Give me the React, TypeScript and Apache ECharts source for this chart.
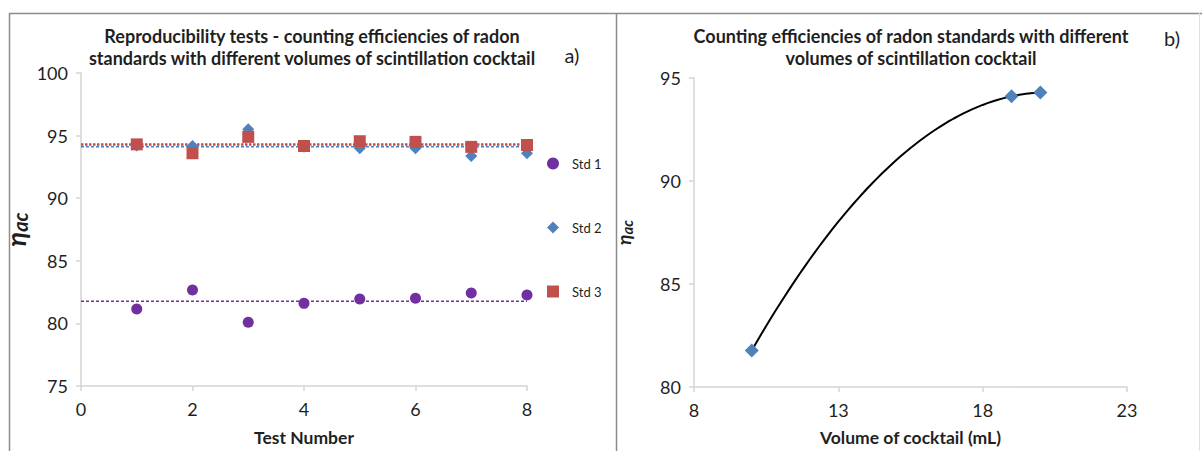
import React, { useEffect, useRef } from "react";
import * as echarts from "echarts";

// Counting efficiency (%) of each radon standard over eight repeated tests
const testNumbers = [1, 2, 3, 4, 5, 6, 7, 8];
const std1 = [81.15, 82.67, 80.09, 81.6, 81.95, 82.0, 82.43, 82.27];
const std2 = [94.2, 94.17, 95.5, 94.1, 93.98, 93.98, 93.37, 93.6];
const std3 = [94.3, 93.59, 94.9, 94.17, 94.55, 94.5, 94.1, 94.25];
const stdNames = ["Std 1", "Std 2", "Std 3"];

// Cocktail volume (mL) of Std 1, Std 2, Std 3
const cocktailVolumes = [10, 19, 20];

const leftXTicks = { min: 0, max: 8, interval: 2 };
const leftYTicks = { min: 75, max: 100, interval: 5 };
const rightXTicks = { min: 8, max: 23, interval: 5 };
const rightYTicks = { min: 80, max: 95, interval: 5 };

const FONT = "Lato, 'Liberation Sans', sans-serif";
const PURPLE = "#7030a0";
const BLUE = "#4f81bd";
const RED = "#c0504d";
const AXIS_GREY = "#d4d4d4";
const TEXT = "#1f1f1f";

const mean = (a: number[]) => a.reduce((s, v) => s + v, 0) / a.length;

// second-order polynomial trendline through the (volume, mean efficiency) points
function quadraticTrend(xs: number[], ys: number[], steps: number) {
  const [x0, x1, x2] = xs;
  const [y0, y1, y2] = ys;
  const f = (x: number) =>
    (y0 * (x - x1) * (x - x2)) / ((x0 - x1) * (x0 - x2)) +
    (y1 * (x - x0) * (x - x2)) / ((x1 - x0) * (x1 - x2)) +
    (y2 * (x - x0) * (x - x1)) / ((x2 - x0) * (x2 - x1));
  const pts: number[][] = [];
  for (let i = 0; i <= steps; i++) {
    const x = x0 + ((x2 - x0) * i) / steps;
    pts.push([x, f(x)]);
  }
  return pts;
}

export default function App() {
  const ref = useRef<HTMLDivElement>(null);

  useEffect(() => {
    if (!ref.current) return;
    const chart = echarts.init(ref.current, undefined, { renderer: "svg" });

    const means = [mean(std1), mean(std2), mean(std3)];
    const xMin = leftXTicks.min;
    const xMax = leftXTicks.max;
    const pairs = (ys: number[]) => testNumbers.map((t, i) => [t, ys[i]]);

    const axisBase = {
      axisLine: { show: true, lineStyle: { color: AXIS_GREY, width: 1.5 } },
      axisTick: { show: true, inside: false, length: 5, lineStyle: { color: AXIS_GREY, width: 1.5 } },
      splitLine: { show: false },
    };
    const xLabel = { axisLabel: { color: TEXT, fontSize: 18, fontFamily: FONT, margin: 14 } };
    const yLabel = { axisLabel: { color: TEXT, fontSize: 18, fontFamily: FONT, margin: 13 } };

    const subscriptName = (big: number, small: number) => ({
      name: "{e|η}{s|ac}",
      nameLocation: "middle" as const,
      nameRotate: 90,
      nameTextStyle: {
        rich: {
          e: { fontSize: big, fontStyle: "italic", fontWeight: "bold", fontFamily: FONT, color: TEXT },
          s: { fontSize: small, fontStyle: "italic", fontWeight: "bold", fontFamily: FONT, color: TEXT, padding: [big * 0.35, 0, 0, 0] },
        },
      },
    });

    const titleStyle = { fontSize: 18, fontWeight: "bold", fontFamily: FONT, lineHeight: 22 };
    const axisNameStyle = { fontSize: 17.5, fontWeight: "bold", fontFamily: FONT, color: TEXT };

    chart.setOption({
      animation: false,
      backgroundColor: "#ffffff",
      legend: {
        data: stdNames,
        orient: "vertical",
        left: 542,
        top: 152,
        itemGap: 51,
        itemWidth: 12,
        itemHeight: 12,
        textStyle: { fontSize: 13, fontFamily: FONT, color: TEXT, padding: [0, 0, 0, 8] },
        selectedMode: false,
      },
      grid: [
        { left: 81, top: 73, width: 446, height: 313 },
        { left: 694, top: 78, width: 433, height: 309 },
      ],
      xAxis: [
        {
          gridIndex: 0, type: "value", ...leftXTicks, ...axisBase, ...xLabel,
          name: "Test Number", nameLocation: "middle", nameGap: 42,
          nameTextStyle: axisNameStyle,
        },
        {
          gridIndex: 1, type: "value", ...rightXTicks, ...axisBase, ...xLabel,
          name: "Volume of cocktail (mL)", nameLocation: "middle", nameGap: 41,
          nameTextStyle: axisNameStyle,
        },
      ],
      yAxis: [
        { gridIndex: 0, type: "value", ...leftYTicks, ...axisBase, ...yLabel, ...subscriptName(27, 20), nameGap: 51 },
        { gridIndex: 1, type: "value", ...rightYTicks, ...axisBase, ...yLabel, ...subscriptName(19, 15), nameGap: 60 },
      ],
      graphic: [
        { type: "line", shape: { x1: 9, y1: 13.5, x2: 1202, y2: 13.5 }, style: { stroke: "#8c8c8c", lineWidth: 1.5 } },
        { type: "line", shape: { x1: 9.5, y1: 13, x2: 9.5, y2: 451 }, style: { stroke: "#8c8c8c", lineWidth: 1.5 } },
        { type: "line", shape: { x1: 616.5, y1: 13, x2: 616.5, y2: 451 }, style: { stroke: "#8c8c8c", lineWidth: 1.5 } },
        { type: "line", shape: { x1: 1199.5, y1: 13, x2: 1199.5, y2: 451 }, style: { stroke: "#e0e0e0", lineWidth: 1 } },
        {
          type: "text", x: 312, y: 47,
          style: { text: "Reproducibility tests - counting efficiencies of radon\nstandards with different volumes of scintillation cocktail", align: "center", verticalAlign: "middle", ...titleStyle, fill: TEXT },
        },
        { type: "text", x: 572, y: 55, style: { text: "a)", align: "center", verticalAlign: "middle", fontSize: 20, fontFamily: FONT, fill: TEXT } },
        {
          type: "text", x: 911, y: 47,
          style: { text: "Counting efficiencies of radon standards with different\nvolumes of scintillation cocktail", align: "center", verticalAlign: "middle", ...titleStyle, fill: TEXT },
        },
        { type: "text", x: 1172, y: 38, style: { text: "b)", align: "center", verticalAlign: "middle", fontSize: 20, fontFamily: FONT, fill: TEXT } },
      ],
      series: [
        // average lines across all tests
        {
          type: "line", xAxisIndex: 0, yAxisIndex: 0, symbol: "none", silent: true, z: 1,
          data: [[xMin, means[0]], [xMax, means[0]]],
          lineStyle: { color: PURPLE, width: 1.5, type: [3, 2] },
        },
        {
          type: "line", xAxisIndex: 0, yAxisIndex: 0, symbol: "none", silent: true, z: 1,
          data: [[xMin, means[1]], [xMax, means[1]]],
          lineStyle: { color: BLUE, width: 1.5, type: [3, 2] },
        },
        {
          type: "line", xAxisIndex: 0, yAxisIndex: 0, symbol: "none", silent: true, z: 1,
          data: [[xMin, means[2]], [xMax, means[2]]],
          lineStyle: { color: RED, width: 2.5, type: [2.5, 1.5] },
        },
        {
          name: stdNames[0], type: "scatter", xAxisIndex: 0, yAxisIndex: 0, z: 3,
          symbol: "circle", symbolSize: 11, data: pairs(std1), itemStyle: { color: PURPLE, opacity: 1 },
        },
        {
          name: stdNames[1], type: "scatter", xAxisIndex: 0, yAxisIndex: 0, z: 3,
          symbol: "diamond", symbolSize: 12, data: pairs(std2), itemStyle: { color: BLUE, opacity: 1 },
        },
        {
          name: stdNames[2], type: "scatter", xAxisIndex: 0, yAxisIndex: 0, z: 4,
          symbol: "rect", symbolSize: 12, data: pairs(std3), itemStyle: { color: RED, opacity: 1 },
        },
        // efficiency versus cocktail volume
        {
          type: "line", xAxisIndex: 1, yAxisIndex: 1, symbol: "none", silent: true, z: 2,
          data: quadraticTrend(cocktailVolumes, means, 60),
          lineStyle: { color: "#000000", width: 2 },
        },
        {
          type: "scatter", xAxisIndex: 1, yAxisIndex: 1, z: 3,
          symbol: "diamond", symbolSize: 14,
          data: cocktailVolumes.map((v, i) => [v, means[i]]),
          itemStyle: { color: BLUE, opacity: 1 },
        },
      ],
    });

    return () => chart.dispose();
  }, []);

  return (
    <div
      ref={ref}
      style={{ position: "fixed", left: 0, top: 0, width: 1202, height: 451, background: "#fff" }}
    />
  );
}
